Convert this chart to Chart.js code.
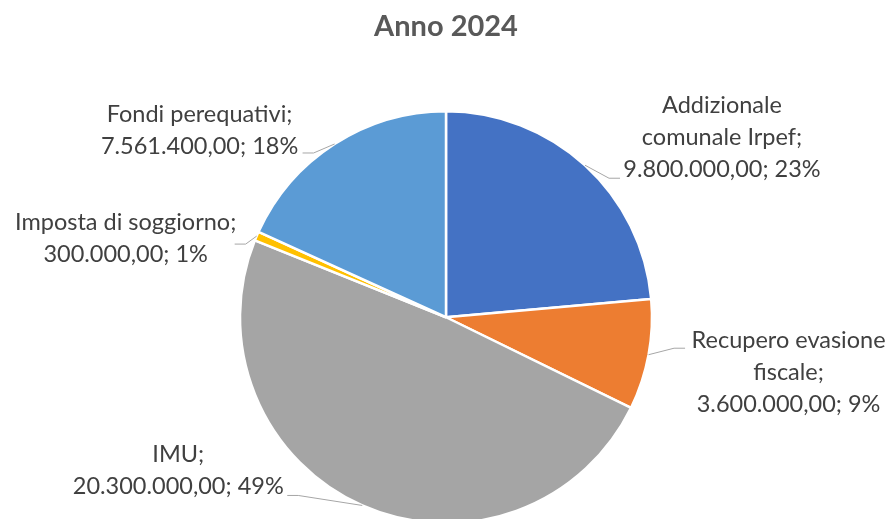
<!DOCTYPE html>
<html>
<head>
<meta charset="utf-8">
<script src="https://cdn.jsdelivr.net/npm/chart.js@4.4.1/dist/chart.umd.min.js"></script>
<style>
  html, body { margin: 0; padding: 0; background: #fff; overflow: hidden; }
  #wrap { width: 892px; height: 530px; position: relative; }
</style>
</head>
<body>
<div id="wrap"><canvas id="chart"></canvas></div>
<script>
// Data
const titleText = 'Anno 2024'
const categories = ['Addizionale comunale Irpef', 'Recupero evasione fiscale', 'IMU', 'Imposta di soggiorno', 'Fondi perequativi']
const values = [9800000, 3600000, 20300000, 300000, 7561400]
const percentLabels = ['23%', '9%', '49%', '1%', '18%']
const colors = ['#4472C4', '#ED7D31', '#A5A5A5', '#FFC000', '#5B9BD5']

// How each label is broken into lines (as in the picture)
const labelLines = [
  ['Addizionale', 'comunale Irpef;'],
  ['Recupero evasione', 'fiscale;'],
  ['IMU;'],
  ['Imposta di soggiorno;'],
  ['Fondi perequativi;']
]

// Label placement relative to the slice's outer mid point: text centre x, first baseline y, leader end
const labelPlacement = [
  { dx: 137, dy: -52, lx: 35, ly: 13 },
  { dx: 140, dy: -6.5, lx: 36.5, ly: -6.5 },
  { dx: -184, dy: -43, lx: -75, ly: -10 },
  { dx: -131, dy: -6, lx: -22, ly: 8 },
  { dx: -135, dy: -22, lx: -32, ly: 9 }
]

function formatIt(n) {
  const fixed = n.toFixed(2)
  const [intPart, dec] = fixed.split('.')
  return intPart.replace(/\B(?=(\d{3})+(?!\d))/g, '.') + ',' + dec
}

const FONT = 'Lato, "Open Sans", sans-serif'
const LINE_H = 32

const outsideLabels = {
  id: 'outsideLabels',
  afterDatasetsDraw(chart) {
    const ctx = chart.ctx
    const meta = chart.getDatasetMeta(0)
    ctx.save()
    meta.data.forEach((arc, i) => {
      const p = arc.getProps(['x', 'y', 'startAngle', 'endAngle', 'outerRadius'], true)
      const mid = (p.startAngle + p.endAngle) / 2
      const ex = p.x + Math.cos(mid) * p.outerRadius
      const ey = p.y + Math.sin(mid) * p.outerRadius
      const pl = labelPlacement[i]

      // leader line
      const endX = ex + pl.lx
      const endY = ey + pl.ly
      const elbowX = endX + (pl.lx > 0 ? -11 : 11)
      ctx.strokeStyle = '#A6A6A6'
      ctx.lineWidth = 1
      ctx.beginPath()
      ctx.moveTo(ex, ey)
      ctx.lineTo(elbowX, endY)
      ctx.lineTo(endX, endY)
      ctx.stroke()

      // text
      const lines = labelLines[i].concat([formatIt(values[i]) + '; ' + percentLabels[i]])
      ctx.fillStyle = '#404040'
      ctx.font = '23.5px ' + FONT
      ctx.textAlign = 'center'
      ctx.textBaseline = 'alphabetic'
      lines.forEach((t, k) => {
        ctx.fillText(t, ex + pl.dx, ey + pl.dy + k * LINE_H)
      })
    })
    ctx.restore()
  }
}

new Chart(document.getElementById('chart'), {
  type: 'pie',
  data: {
    labels: categories,
    datasets: [{
      data: values,
      backgroundColor: colors,
      borderColor: '#FFFFFF',
      borderWidth: 2.5
    }]
  },
  options: {
    responsive: true,
    maintainAspectRatio: false,
    animation: false,
    layout: { padding: { top: 0, bottom: 5.5, left: 0, right: 0 } },
    plugins: {
      legend: { display: false },
      tooltip: { enabled: false },
      title: {
        display: true,
        text: titleText,
        color: '#595959',
        font: { family: FONT, size: 29, weight: 'bold' },
        padding: { top: 9.6, bottom: 65.6 }
      }
    }
  },
  plugins: [outsideLabels]
})
</script>
</body>
</html>
